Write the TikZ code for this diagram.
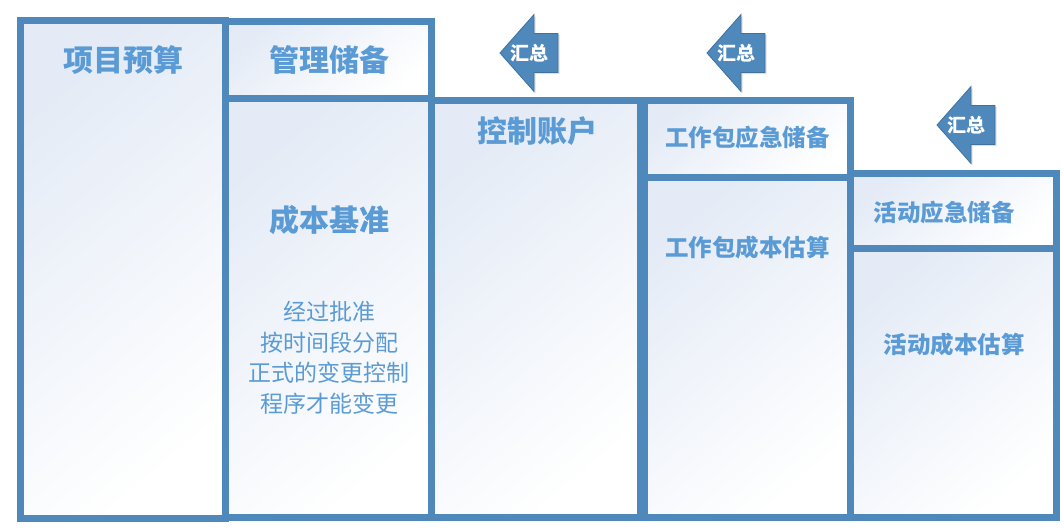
\documentclass[tikz,border=0pt]{standalone}
\usepackage{fontspec}
\newfontfamily\cjk{Noto Sans CJK SC}
\definecolor{frameblue}{HTML}{4F88BB}
\definecolor{textblue}{HTML}{5B9BD5}
\definecolor{arrowedge}{HTML}{41719C}
\definecolor{paleblue}{HTML}{E4EBF6}
\usetikzlibrary{positioning, shadows}

\begin{document}
\begin{tikzpicture}[
    x=1pt, y=-1pt,
    panel/.style={draw=frameblue, line width=7pt, top color=paleblue,
                  bottom color=white, shading angle=40},
    title/.style={inner sep=0pt, text=textblue,
                  font=\cjk\bfseries\fontsize{30pt}{30pt}\selectfont},
    subtitle/.style={title, font=\cjk\bfseries\fontsize{23.5pt}{23.5pt}\selectfont},
    note/.style={inner sep=0pt, text=textblue, align=center,
                 font=\cjk\fontsize{23pt}{30.5pt}\selectfont},
    sumarrow/.style={fill=frameblue, draw=arrowedge, line width=0.8pt,
                     drop shadow={opacity=0.25, shadow xshift=1.5pt, shadow yshift=-1.5pt}},
    sumtext/.style={inner sep=0pt, text=white,
                    font=\cjk\bfseries\fontsize{19pt}{19pt}\selectfont},
  ]
  \useasboundingbox (0,0) rectangle (1064,530);

  % panels
  \draw[panel] (20.5,20) rectangle (225.5,518);
  \draw[panel] (225.5,21) rectangle (431.5,98.5);
  \draw[panel] (225.5,98.5) rectangle (431.5,517.5);
  \draw[panel] (431.5,100.5) rectangle (640.5,517.5);
  \draw[panel] (644,100.5) rectangle (850.5,177.5);
  \draw[panel] (644,177.5) rectangle (850.5,517.5);
  \draw[panel] (850.5,173) rectangle (1056,248);
  \draw[panel] (850.5,248) rectangle (1056,517.5);

  % labels
  \node[title] (budget) at (123,60) {项目预算};
  \node[title] (reserve) at (329,60) {管理储备};
  \node[title] (baseline) at (329,220) {成本基准};
  \node[note] (rule) at (329,358) {经过批准\\按时间段分配\\正式的变更控制\\程序才能变更};
  \node[title] (account) at (537,131) {控制账户};
  \node[subtitle] (wpreserve) at (747.5,138) {工作包应急储备};
  \node[subtitle] (wpcost) at (747.5,248) {工作包成本估算};
  \node[subtitle] (actreserve) at (944,213) {活动应急储备};
  \node[subtitle] (actcost) at (954,345) {活动成本估算};

  % roll-up arrows
  \foreach \tx/\ty/\nm in {500/53/sumA, 707/53/sumB, 937/125/sumC}{
    \draw[sumarrow] (\tx,\ty) -- ++(34,-38.5) -- ++(0,19) -- ++(24,0)
      -- ++(0,39) -- ++(-24,0) -- ++(0,19) -- cycle;
    \node[sumtext] (\nm) at (\tx+29,\ty) {汇总};
  }
\end{tikzpicture}
\end{document}
